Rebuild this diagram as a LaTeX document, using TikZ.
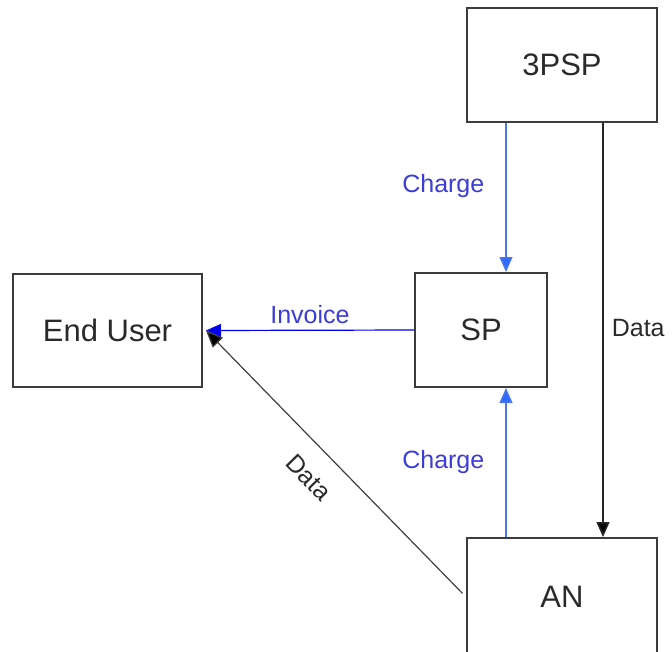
\documentclass[tikz,border=0pt]{standalone}
\usepackage{fontspec}
\setmainfont{Liberation Sans}
\usetikzlibrary{arrows.meta,calc}
\definecolor{boxline}{HTML}{3C3C3C}
\definecolor{boxtext}{HTML}{2A2A2A}
\definecolor{lineblue}{HTML}{4A78E8}
\definecolor{tipblue}{HTML}{2F6BFF}
\definecolor{invblue}{HTML}{0000EE}
\definecolor{lblblue}{HTML}{3C3CD8}
\tikzset{
  entity/.style={draw=boxline, line width=2pt, fill=white, text=boxtext,
    font=\fontsize{31}{36}\selectfont, inner sep=0pt},
  lbl/.style={font=\fontsize{25}{30}\selectfont, inner sep=2pt},
  bluearrow/.style={draw=lineblue, line width=1.4pt,
    -{Triangle[length=15pt,width=13pt,fill=tipblue]}},
  invarrow/.style={draw=invblue, line width=1.2pt,
    -{Triangle[length=15pt,width=13pt,fill=invblue]}},
  blackarrow/.style={draw=black!85, line width=1.6pt,
    -{Triangle[length=15pt,width=13pt,fill=black]}},
  thinarrow/.style={draw=black!75, line width=1.2pt,
    -{Triangle[length=17pt,width=14pt,fill=black]}}
}
\begin{document}
\begin{tikzpicture}[x=1pt,y=-1pt]
\useasboundingbox (0,0) rectangle (672,651);
\node[entity, minimum width=190pt, minimum height=114pt] (PSP) at (562,65) {3PSP};
\node[entity, minimum width=132pt, minimum height=114pt] (SP) at (481,330) {SP};
\node[entity, minimum width=189pt, minimum height=113pt] (EU) at (107.5,330.5) {End User};
\node[entity, minimum width=190pt, minimum height=118pt] (AN) at (562,597) {AN};

\draw[bluearrow] ([xshift=-56pt]PSP.south) -- ([xshift=-56pt]PSP.south |- SP.north)
  node[lbl, text=lblblue, pos=0.42, left=19pt] {Charge};
\draw[bluearrow] ([xshift=-56pt]AN.north) -- ([xshift=-56pt]AN.north |- SP.south)
  node[lbl, text=lblblue, pos=0.5, left=19pt] {Charge};
\draw[invarrow] (SP.west) -- ([xshift=3pt]EU.east)
  node[lbl, text=lblblue, pos=0.5, above=4pt] {Invoice};
\draw[blackarrow] ([xshift=41pt]PSP.south) -- ([xshift=41pt]AN.north)
  node[lbl, text=boxtext, pos=0.495, right=6pt] {Data};
\draw[thinarrow, shorten <=5pt] (AN.west) -- ([xshift=3pt]EU.east)
  node[lbl, text=boxtext, pos=0.525, sloped, below=18pt] {Data};
\end{tikzpicture}
\end{document}
